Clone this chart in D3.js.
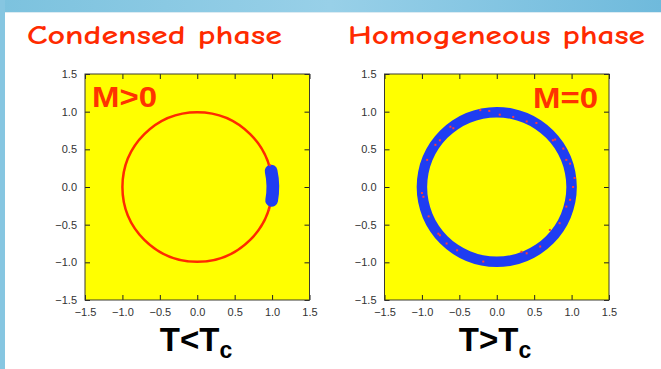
<!DOCTYPE html>
<html>
<head>
<meta charset="utf-8">
<script src="https://cdn.jsdelivr.net/npm/d3@7"></script>
<style>
  html, body { margin: 0; padding: 0; background: #fff; overflow: hidden; }
  svg { display: block; }
</style>
</head>
<body>
<svg id="chart" width="661" height="369"></svg>
<script>
// Axis ticks shared by both scatter panels
const axisTicks = [-1.5, -1.0, -0.5, 0.0, 0.5, 1.0, 1.5];

// Panel headings, order-parameter labels and temperature captions
const panelTitles = ["Condensed phase", "Homogeneous phase"];
const orderLabels = ["M>0", "M=0"];
const tempMain = ["T<T", "T>T"];
const tempSub = ["c", "c"];

// Condensed phase: unit circle of the momenta and the clustered particles
const unitCircleRadius = [1.0];
const clusterAngleRange = [-15, 17];      // degrees, counter-clockwise from +x
const clusterRadiusRange = [0.925, 1.095];
const clusterSpecks = [[0.97, 0.29], [0.96, -0.30]];

// Homogeneous phase: particles spread uniformly around the ring
const ringRadiusRange = [0.93, 1.07];
const ringSpecks = [
  [-0.22, 1.02], [-0.10, 1.01], [-0.62, 0.80], [-0.58, 0.78], [-0.76, 0.62],
  [-0.82, 0.56], [-0.93, 0.36], [-1.00, -0.08], [-0.98, -0.13], [-0.91, -0.39],
  [-0.78, -0.62], [-0.76, -0.64], [-0.67, -0.75], [-0.53, -0.84], [-0.18, -0.99],
  [0.33, -0.86], [0.40, -0.88], [0.58, -0.79], [0.71, -0.57], [0.84, -0.48],
  [0.93, -0.26], [0.98, -0.17], [1.02, 0.00], [1.04, 0.12], [0.98, 0.31],
  [0.93, 0.36], [0.75, 0.62], [0.78, 0.63], [0.89, 0.51], [0.40, 0.87],
  [0.53, 0.85], [0.04, 0.96], [0.22, 0.93]
];

// Layout
const W = 661, H = 369;
const panelX = [[85, 309.5], [384.5, 609]];
const panelY = [300, 74];
const titleX = [27, 348], titleW = [255, 297];
const orderX = [92, 533], orderBase = [107, 108];
const captionX = [196, 495];

const RED = "#ff2a00", BLUE = "#1f3df2", YELLOW = "#ffff00";
const svg = d3.select("#chart");

// Slide background with blue border strips
const defs = svg.append("defs");
const grad = defs.append("linearGradient").attr("id", "strip").attr("x1", 0).attr("x2", 1);
grad.append("stop").attr("offset", 0).attr("stop-color", "#7cc2de");
grad.append("stop").attr("offset", 0.5).attr("stop-color", "#98d0e8");
grad.append("stop").attr("offset", 1).attr("stop-color", "#6fbadc");
svg.append("rect").attr("width", W).attr("height", H).attr("fill", "#ffffff");
svg.append("rect").attr("width", W).attr("height", 12).attr("fill", "url(#strip)");
svg.append("rect").attr("width", 5).attr("height", H).attr("fill", "#86c6e1");
svg.append("line").attr("x1", 5).attr("x2", W).attr("y1", 12.5).attr("y2", 12.5)
  .attr("stroke", "#dcebf2").attr("stroke-width", 1);

const fmt = d3.format(".1f");
const deg = a => a * Math.PI / 180;

panelTitles.forEach((title, i) => {
  const x = d3.scaleLinear().domain([-1.5, 1.5]).range(panelX[i]);
  const y = d3.scaleLinear().domain([-1.5, 1.5]).range(panelY);
  const g = svg.append("g");
  const cx = x(0), cy = y(0), k = x(1) - x(0);

  // Heading
  svg.append("text")
    .attr("x", titleX[i]).attr("y", 44)
    .attr("font-family", "'Comic Sans MS','Comic Neue','Segoe Print',cursive")
    .attr("font-size", 27)
    .attr("font-weight", "bold")
    .attr("fill", RED)
    .attr("textLength", titleW[i])
    .attr("lengthAdjust", "spacingAndGlyphs")
    .text(title);

  // Plot background
  g.append("rect")
    .attr("x", x(-1.5)).attr("y", y(1.5))
    .attr("width", x(1.5) - x(-1.5)).attr("height", y(-1.5) - y(1.5))
    .attr("fill", YELLOW);

  const marks = g.append("g").attr("transform", `translate(${cx},${cy})`);

  if (i === 0) {
    marks.selectAll("circle.unit").data(unitCircleRadius).join("circle")
      .attr("class", "unit")
      .attr("r", d => d * k)
      .attr("fill", "none").attr("stroke", RED).attr("stroke-width", 2.5);

    const arc = d3.arc()
      .innerRadius(clusterRadiusRange[0] * k)
      .outerRadius(clusterRadiusRange[1] * k)
      .startAngle(deg(90 - clusterAngleRange[1]))
      .endAngle(deg(90 - clusterAngleRange[0]))
      .cornerRadius((clusterRadiusRange[1] - clusterRadiusRange[0]) / 2 * k);
    marks.append("path").attr("d", arc()).attr("fill", BLUE);

    g.selectAll("rect.speck").data(clusterSpecks).join("rect")
      .attr("class", "speck")
      .attr("x", d => x(d[0]) - 1).attr("y", d => y(d[1]) - 1)
      .attr("width", 2).attr("height", 2).attr("fill", "#ff3030");
  } else {
    const ring = d3.arc()
      .innerRadius(ringRadiusRange[0] * k)
      .outerRadius(ringRadiusRange[1] * k)
      .startAngle(0).endAngle(2 * Math.PI);
    marks.append("path").attr("d", ring()).attr("fill", BLUE);

    g.selectAll("rect.speck").data(ringSpecks).join("rect")
      .attr("class", "speck")
      .attr("x", d => x(d[0]) - 1).attr("y", d => y(d[1]) - 1)
      .attr("width", 2).attr("height", 2).attr("fill", "#ff3a3a");
  }

  // Axes with inward ticks on all four sides
  const styleAxis = sel => {
    sel.select(".domain").remove();
    sel.selectAll(".tick line").attr("stroke", "#222");
    sel.attr("font-family", "'Liberation Sans', Arial, sans-serif")
       .attr("font-size", 11);
    sel.selectAll(".tick text").attr("fill", "#333");
  };
  g.append("g").attr("transform", `translate(${x(-1.5)},0)`)
    .call(d3.axisLeft(y).tickValues(axisTicks).tickSize(-5).tickPadding(8).tickFormat(fmt))
    .call(styleAxis);
  g.append("g").attr("transform", `translate(0,${y(-1.5)})`)
    .call(d3.axisBottom(x).tickValues(axisTicks).tickSize(-5).tickPadding(8).tickFormat(fmt))
    .call(styleAxis);
  g.append("g").attr("transform", `translate(${x(1.5)},0)`)
    .call(d3.axisRight(y).tickValues(axisTicks).tickSize(-5).tickFormat(""))
    .call(styleAxis);
  g.append("g").attr("transform", `translate(0,${y(1.5)})`)
    .call(d3.axisTop(x).tickValues(axisTicks).tickSize(-5).tickFormat(""))
    .call(styleAxis);

  // Frame
  g.append("rect")
    .attr("x", x(-1.5)).attr("y", y(1.5))
    .attr("width", x(1.5) - x(-1.5)).attr("height", y(-1.5) - y(1.5))
    .attr("fill", "none").attr("stroke", "#3b3b30").attr("stroke-width", 1);

  // Order-parameter label
  g.append("text")
    .attr("x", orderX[i]).attr("y", orderBase[i])
    .attr("font-family", "'Liberation Sans', Arial, sans-serif")
    .attr("font-weight", "bold").attr("font-size", 30)
    .attr("fill", "#ff3300")
    .attr("textLength", 65).attr("lengthAdjust", "spacingAndGlyphs")
    .text(orderLabels[i]);

  // Temperature caption
  const cap = svg.append("text")
    .attr("x", captionX[i]).attr("y", 351)
    .attr("text-anchor", "middle")
    .attr("font-family", "'Liberation Sans', Arial, sans-serif")
    .attr("font-weight", "bold").attr("font-size", 33)
    .attr("fill", "#000");
  cap.append("tspan").text(tempMain[i]);
  cap.append("tspan").attr("font-size", 23).attr("dy", 7).text(tempSub[i]);
});
</script>
</body>
</html>
